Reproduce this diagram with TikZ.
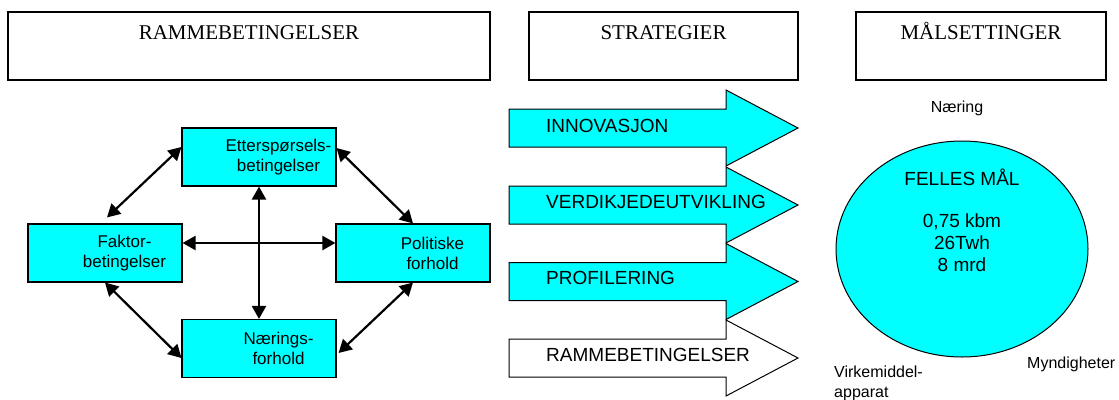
\documentclass[tikz,border=0pt]{standalone}
\usepackage{fontspec}
\setmainfont{Liberation Sans}
\newfontfamily\titlefont{Liberation Serif}
\usetikzlibrary{arrows.meta}
\definecolor{aqua}{RGB}{0,255,255}
\begin{document}
\begin{tikzpicture}[x=1pt,y=-1pt,
  titlebox/.style={draw=black,line width=1.4pt,minimum height=68pt,inner sep=0pt},
  titletext/.style={font=\titlefont\fontsize{21}{24}\selectfont,inner sep=0pt,anchor=base},
  factorbox/.style={draw=black,line width=1.1pt,fill=aqua,minimum width=154pt,minimum height=58pt,inner sep=0pt},
  factortext/.style={font=\fontsize{17}{20}\selectfont,align=center,inner sep=0pt},
  link/.style={line width=2.2pt,{Triangle[length=13pt,width=14pt]}-{Triangle[length=13pt,width=14pt]}},
  stratarrow/.style={draw=black,line width=1pt,fill=aqua},
  strattext/.style={font=\fontsize{19}{22}\selectfont,inner sep=0pt,anchor=base west},
  smalltext/.style={font=\fontsize{16}{20}\selectfont,inner sep=0pt,align=left}]
\useasboundingbox (0,0) rectangle (1119,399);

% title boxes
\node[titlebox,minimum width=482pt] (tb1) at (249,46) {};
\node[titlebox,minimum width=269pt] (tb2) at (663.5,46) {};
\node[titlebox,minimum width=250pt] (tb3) at (981,46) {};
\node[titletext] (tt1) at (249,39) {RAMMEBETINGELSER};
\node[titletext] (tt2) at (663.5,39) {STRATEGIER};
\node[titletext] (tt3) at (981,39) {MÅLSETTINGER};

% factor boxes
\node[factorbox] (ett) at (259,157) {};
\node[factorbox] (fak) at (105,253) {};
\node[factorbox] (pol) at (413,253) {};
\node[factorbox] (nae) at (259,348.5) {};
\node[factortext] (ettT) at (278.5,157) {Etterspørsels-\\betingelser};
\node[factortext] (fakT) at (124.5,253) {Faktor-\\betingelser};
\node[factortext] (polT) at (432.5,253) {Politiske\\forhold};
\node[factortext] (naeT) at (278.5,348.5) {Nærings-\\forhold};

% connectors
\draw[link] ([yshift=10pt]ett.west) -- ([xshift=2pt,yshift=6pt]fak.north);
\draw[link] ([yshift=9pt]ett.east) -- (pol.north);
\draw[link] (fak.south) -- ([yshift=-9.5pt]nae.west);
\draw[link] (pol.south) -- ([xshift=2pt,yshift=-4.5pt]nae.east);
\draw[link] (ett.south) -- (nae.north);
\draw[link] ([yshift=10pt]fak.east) -- ([yshift=10pt]pol.west);

% strategy block arrows
\draw[stratarrow] (509,128) ++(0,-19) -- ++(217,0) -- ++(0,-19) -- ++(72,38) -- ++(-72,38) -- ++(0,-19) -- ++(-217,0) -- cycle;
\draw[stratarrow] (509,205) ++(0,-19) -- ++(217,0) -- ++(0,-19) -- ++(72,38) -- ++(-72,38) -- ++(0,-19) -- ++(-217,0) -- cycle;
\draw[stratarrow] (509,281.5) ++(0,-19) -- ++(217,0) -- ++(0,-19) -- ++(72,38) -- ++(-72,38) -- ++(0,-19) -- ++(-217,0) -- cycle;
\draw[stratarrow,fill=white] (509,358) ++(0,-19) -- ++(217,0) -- ++(0,-19) -- ++(72,38) -- ++(-72,38) -- ++(0,-19) -- ++(-217,0) -- cycle;
\node[strattext] (s1) at (546,132) {INNOVASJON};
\node[strattext] (s2) at (546,208) {VERDIKJEDEUTVIKLING};
\node[strattext] (s3) at (546,284.5) {PROFILERING};
\node[strattext] (s4) at (546,361) {RAMMEBETINGELSER};

% goal ellipse
\coordinate (goal) at (962,249);
\draw[draw=black,line width=1pt,fill=aqua] (goal) ellipse [x radius=126pt, y radius=108pt];
\node[font=\fontsize{19}{22}\selectfont,inner sep=0pt,anchor=base] (gt) at (962,185) {FELLES MÅL};
\node[font=\fontsize{19}{22}\selectfont,inner sep=0pt,align=center] (gn) at (962,243) {0,75 kbm\\26Twh\\8 mrd};

\node[smalltext,anchor=base] (l1) at (957,112) {Næring};
\node[smalltext,anchor=north west] (l2) at (834,366) {Virkemiddel-\\apparat};
\node[smalltext,anchor=base west] (l3) at (1027,368) {Myndigheter};
\end{tikzpicture}
\end{document}
